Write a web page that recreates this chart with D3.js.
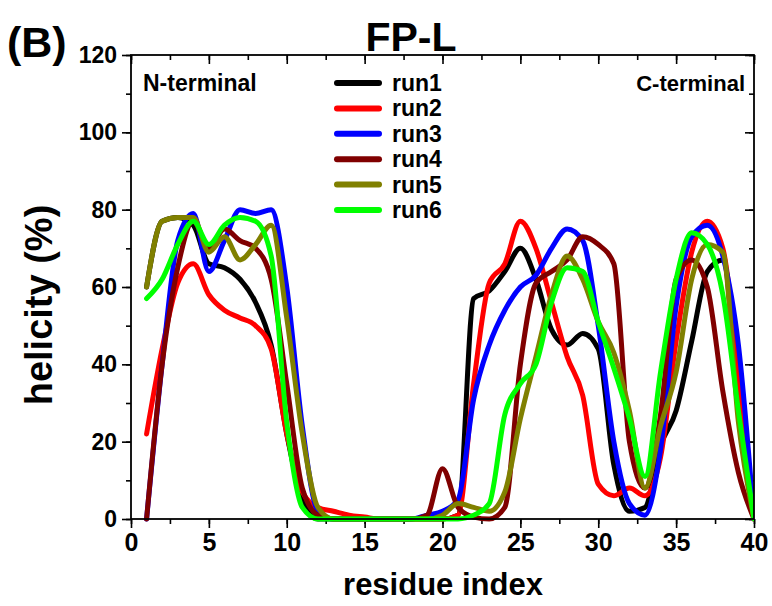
<!DOCTYPE html>
<html>
<head>
<meta charset="utf-8">
<script src="https://cdn.jsdelivr.net/npm/d3@7"></script>
<style>
  html, body { margin: 0; padding: 0; background: #fff; }
  svg text { font-family: "Liberation Sans", Arial, sans-serif; font-weight: bold; fill: #000; }
</style>
</head>
<body>
<svg id="chart" width="772" height="606"></svg>
<script>
// ---- data (helicity %, residues 1..40) ----
const residues = d3.range(1, 41);
const run1 = [60,77,78,76,66,65,62,56,45,22, 5,0,0,0,0,0,0,0,0,0, 1,57,59,64,70,62,49,45,48,44, 14,2,3,19,28,46,64,67,30,0];
const run2 = [22,44,61,66,58,54,52,50,44,22, 7,3,2,1,0.5,0,0,0,0,0, 1,35,61,66,77,70,56,42,32,9, 6,8,6,16,46,69,77,70,38,0];
const run3 = [0,40,72,79,64,72,80,79,80,60, 24,2,0,0,0,0,0,0,1,2, 5,31,45,54,60,63,70,75,72,50, 20,4,1,18,55,73,76,68,45,0];
const run4 = [0,40,65,77,70,75,72,70,62,35, 8,1,0,0,0,0,0,0,1,13, 3,0.5,0,3,40,61,64,67,73,71, 66,20,8,27,62,67,60,33,12,0];
const run5 = [60,77,78,78,69,73,67,71,76,52, 22,3,0,0,0,0,0,0,0,1, 4,3,2,7,26,42,58,68,62,51, 43,28,8,24,38,62,71,69,25,0];
const run6 = [57,62,71,77,71,76,78,77,68,25, 3,0,0,0,0,0,0,0,0,0, 0,1,4,27,35,40,56,65,64,51, 39,26,11,38,62,74,71,58,28,0];
const seriesNames = ["run1","run2","run3","run4","run5","run6"];
const seriesColors = ["#000000","#ff0000","#0000ff","#800000","#808000","#00ff00"];
const seriesValues = [run1, run2, run3, run4, run5, run6];
const xTicks = [0,5,10,15,20,25,30,35,40];
const yTicks = [0,20,40,60,80,100,120];

// ---- layout ----
const L = 131, R = 754, T = 55, B = 519;
const svg = d3.select("#chart");
const x = d3.scaleLinear().domain([0, 40]).range([L, R]);
const y = d3.scaleLinear().domain([0, 120]).range([B, T]);

const xMinor = d3.range(0, 40.01, 2.5);
const yMinor = d3.range(0, 120.01, 10);

function styleAxis(g) {
  g.selectAll(".domain").remove();
  g.selectAll("line").attr("stroke", "#000").attr("stroke-width", 1.6);
}

// bottom axis (outward ticks)
svg.append("g").attr("transform", `translate(0,${B})`)
  .call(d3.axisBottom(x).tickValues(xMinor).tickSize(5).tickFormat(""))
  .call(styleAxis);
const gxb = svg.append("g").attr("transform", `translate(0,${B})`)
  .call(d3.axisBottom(x).tickValues(xTicks).tickSize(9).tickPadding(5).tickFormat(d3.format("d")))
  .call(styleAxis);
gxb.selectAll("text").style("font-size", "25px").attr("fill", "#000");

// top axis (inward ticks)
svg.append("g").attr("transform", `translate(0,${T})`)
  .call(d3.axisBottom(x).tickValues(xMinor).tickSize(5).tickFormat(""))
  .call(styleAxis);
svg.append("g").attr("transform", `translate(0,${T})`)
  .call(d3.axisBottom(x).tickValues(xTicks).tickSize(9).tickFormat(""))
  .call(styleAxis);

// left axis (outward)
svg.append("g").attr("transform", `translate(${L},0)`)
  .call(d3.axisLeft(y).tickValues(yMinor).tickSize(5).tickFormat(""))
  .call(styleAxis);
const gyl = svg.append("g").attr("transform", `translate(${L},0)`)
  .call(d3.axisLeft(y).tickValues(yTicks).tickSize(9).tickPadding(5).tickFormat(d3.format("d")))
  .call(styleAxis);
gyl.selectAll("text").style("font-size", "23px").attr("fill", "#000");

// right axis (inward)
svg.append("g").attr("transform", `translate(${R},0)`)
  .call(d3.axisLeft(y).tickValues(yMinor).tickSize(5).tickFormat(""))
  .call(styleAxis);
svg.append("g").attr("transform", `translate(${R},0)`)
  .call(d3.axisLeft(y).tickValues(yTicks).tickSize(9).tickFormat(""))
  .call(styleAxis);

// clip
svg.append("clipPath").attr("id", "plotclip")
  .append("rect").attr("x", L).attr("y", T).attr("width", R - L).attr("height", B - T + 3);

// lines
const line = d3.line()
  .x((d, i) => x(residues[i]))
  .y(d => y(d))
  .curve(d3.curveMonotoneX);

const gLines = svg.append("g").attr("clip-path", "url(#plotclip)");
seriesValues.forEach((vals, k) => {
  gLines.append("path")
    .datum(vals)
    .attr("d", line)
    .attr("fill", "none")
    .attr("stroke", seriesColors[k])
    .attr("stroke-width", 5)
    .attr("stroke-linejoin", "round")
    .attr("stroke-linecap", "round");
});

// frame
svg.append("rect").attr("x", L).attr("y", T).attr("width", R - L).attr("height", B - T)
  .attr("fill", "none").attr("stroke", "#000").attr("stroke-width", 1.8);

// legend
const lg = svg.append("g");
seriesNames.forEach((name, k) => {
  const yy = 83 + k * 25.4;
  lg.append("line").attr("x1", 337).attr("x2", 379).attr("y1", yy).attr("y2", yy)
    .attr("stroke", seriesColors[k]).attr("stroke-width", 6).attr("stroke-linecap", "round");
  lg.append("text").attr("x", 392).attr("y", yy + 8).style("font-size", "23px").text(name);
});

// annotations
svg.append("text").attr("x", 143).attr("y", 91).style("font-size", "23px").text("N-terminal");
svg.append("text").attr("x", 745).attr("y", 91).attr("text-anchor", "end").style("font-size", "22px").text("C-terminal");

// titles
svg.append("text").attr("x", 411).attr("y", 51).attr("text-anchor", "middle").style("font-size", "41px").text("FP-L");
svg.append("text").attr("x", 7).attr("y", 57).style("font-size", "43px").text("(B)");
svg.append("text").attr("x", 443).attr("y", 595).attr("text-anchor", "middle").style("font-size", "31px").text("residue index");
svg.append("text").attr("transform", `translate(52,${(T + B) / 2 + 18}) rotate(-90)`)
  .attr("text-anchor", "middle").style("font-size", "38px").text("helicity (%)");
</script>
</body>
</html>
